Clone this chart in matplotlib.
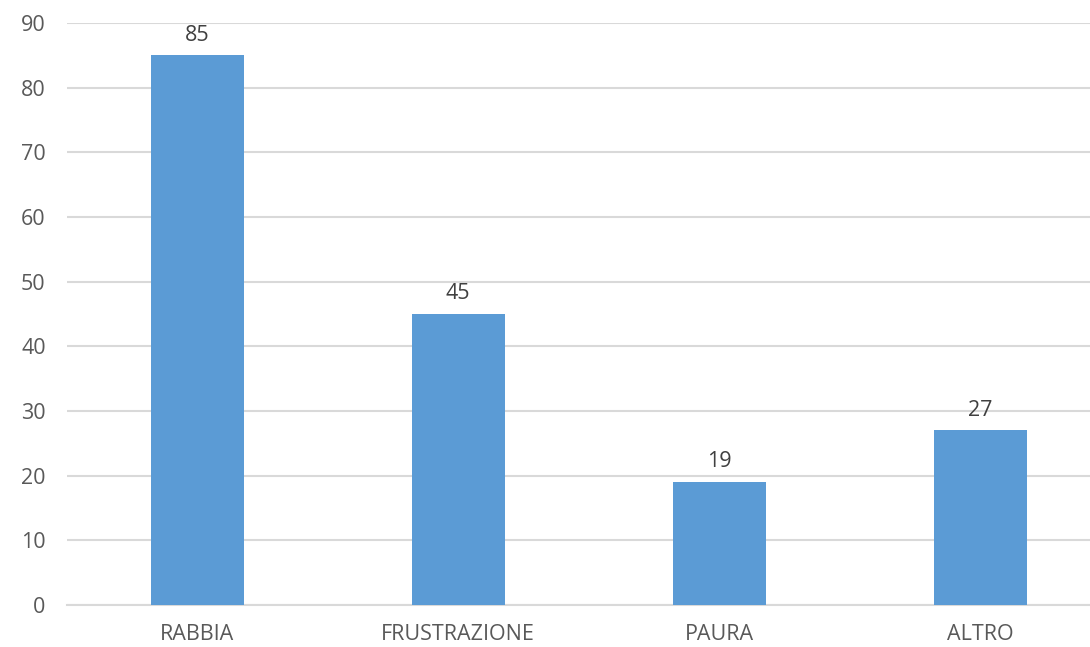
import matplotlib
matplotlib.use("Agg")
import matplotlib.pyplot as plt

categories = ["RABBIA", "FRUSTRAZIONE", "PAURA", "ALTRO"]
values = [85, 45, 19, 27]
yticks = [0, 10, 20, 30, 40, 50, 60, 70, 80, 90]

plt.rcParams['font.family'] = ['Open Sans', 'DejaVu Sans']

fig = plt.figure(figsize=(10.9, 6.47), dpi=100)
spacing = 261.0
left_px, right_px = 66.5, 1090
ax = fig.add_axes([left_px / 1090, 1 - 605 / 647, (right_px - left_px) / 1090, (605 - 23) / 647])
x = list(range(len(categories)))
ax.bar(x, values, width=93 / spacing, color="#5B9BD5", zorder=3)
ax.set_xlim(-0.5, -0.5 + (right_px - left_px) / spacing)
ax.set_ylim(0, 90)
ax.set_yticks(yticks)
ax.set_xticks(x)
ax.set_xticklabels(categories)
ax.tick_params(axis='both', length=0, labelsize=15.5, colors="#595959")
ax.tick_params(axis='y', pad=15)
ax.tick_params(axis='x', pad=14)
ax.grid(axis='y', color="#D9D9D9", linewidth=1.5, zorder=0)
for s in ["left", "right", "top"]:
    ax.spines[s].set_visible(False)
ax.spines["bottom"].set_color("#D9D9D9")
ax.spines["bottom"].set_linewidth(1.5)
for xi, v in zip(x, values):
    ax.annotate(str(v), (xi, v), xytext=(0, 7), textcoords="offset points",
                ha="center", va="bottom", fontsize=15.5, color="#404040")
fig.savefig("out.png", dpi=100)
